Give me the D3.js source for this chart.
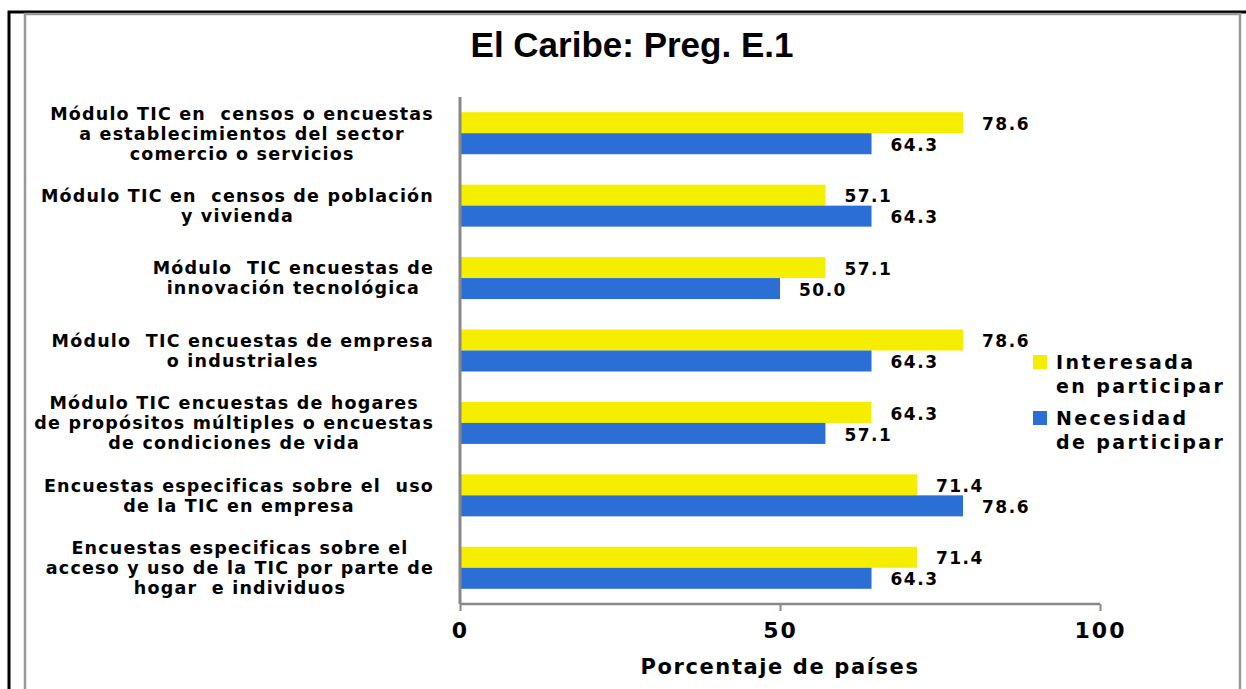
<!DOCTYPE html>
<html><head><meta charset="utf-8">
<script src="https://cdn.jsdelivr.net/npm/d3@7"></script>
<style>
html,body{margin:0;padding:0;background:#fff;}
svg{display:block;}
text{font-family:"DejaVu Sans",Verdana,sans-serif;font-weight:bold;fill:#000;white-space:pre;}
</style></head>
<body>
<svg id="chart" width="1246" height="689"></svg>
<script>
const categories = [
  ["Módulo TIC en  censos o encuestas","a establecimientos del sector","comercio o servicios"],
  ["Módulo TIC en  censos de población","y vivienda"],
  ["Módulo  TIC encuestas de","innovación tecnológica"],
  ["Módulo  TIC encuestas de empresa","o industriales"],
  ["Módulo TIC encuestas de hogares","de propósitos múltiples o encuestas","de condiciones de vida"],
  ["Encuestas especificas sobre el  uso","de la TIC en empresa"],
  ["Encuestas especificas sobre el","acceso y uso de la TIC por parte de","hogar  e individuos"]
];
const seriesNames = ["Interesada en participar","Necesidad de participar"];
const legendLines = [["Interesada","en participar"],["Necesidad","de participar"]];
const interesada = [78.6, 57.1, 57.1, 78.6, 64.3, 71.4, 71.4];
const necesidad  = [64.3, 64.3, 50.0, 64.3, 57.1, 78.6, 64.3];
const xTicks = [0, 50, 100];
const colors = ["#F5EE00", "#2B6FD6"];

const svg = d3.select("#chart");

// frames
svg.append("rect").attr("x",9).attr("y",12).attr("width",1250).attr("height",700)
  .attr("fill","none").attr("stroke","#000").attr("stroke-width",3);
svg.append("rect").attr("x",25).attr("y",14).attr("width",1215).attr("height",700)
  .attr("fill","none").attr("stroke","#999").attr("stroke-width",2.5);

// title
svg.append("text").attr("x",632).attr("y",57).attr("text-anchor","middle")
  .style("font-family","'Liberation Sans Narrow','Arial Narrow',sans-serif")
  .style("font-size","35px").text("El Caribe: Preg. E.1");

const x = d3.scaleLinear().domain([0,100]).range([460,1100]);
const y = d3.scaleBand().domain(d3.range(categories.length)).range([97,604])
  .paddingInner(0.42).paddingOuter(0.21);
const ys = d3.scaleBand().domain([0,1]).range([0,y.bandwidth()]);

const data = [interesada, necesidad];
const g = svg.append("g");
data.forEach((vals,si)=>{
  g.selectAll(".b"+si).data(vals).join("rect")
    .attr("x",x(0)).attr("y",(d,i)=>y(i)+ys(si))
    .attr("width",d=>x(d)-x(0)).attr("height",ys.bandwidth())
    .attr("fill",colors[si]);
  g.selectAll(".l"+si).data(vals).join("text")
    .attr("x",d=>x(d)+19).attr("y",(d,i)=>y(i)+ys(si)+ys.bandwidth()/2+1)
    .attr("dy","0.36em")
    .style("font-size","17px").style("letter-spacing","1.5px")
    .text(d=>d.toFixed(1));
});

// axes
const xAxis = d3.axisBottom(x).tickValues(xTicks).tickSize(7).tickFormat(d3.format("d"));
const ax = svg.append("g").attr("transform","translate(0,604)").call(xAxis);
ax.select(".domain").attr("stroke","#888").attr("stroke-width",2.5).attr("d","M460,0H1100");
ax.selectAll(".tick line").attr("stroke","#888").attr("stroke-width",2);
ax.selectAll(".tick text").attr("y",18).attr("dy","0.71em")
  .style("font-size","22px").style("letter-spacing","2px")
  .style("font-family","'DejaVu Sans',sans-serif").attr("fill","#000");

svg.append("line").attr("x1",x(0)).attr("x2",x(0)).attr("y1",97).attr("y2",604)
  .attr("stroke","#888").attr("stroke-width",3);

svg.append("text").attr("x",780).attr("y",674).attr("text-anchor","middle")
  .style("font-size","21px").style("letter-spacing","1.6px").text("Porcentaje de países");

// category labels: block right aligned, lines centered within block
const labelRight = 434;
categories.forEach((lines,i)=>{
  const n = lines.length;
  const cy = y(i)+y.bandwidth()/2;
  const lh = 20;
  const t = svg.append("g");
  const texts = lines.map((ln,j)=> t.append("text")
     .attr("y", cy + (j-(n-1)/2)*lh).attr("dy","0.36em")
     .style("font-size","17.5px").style("letter-spacing","1.2px")
     .attr("text-anchor","middle").text(ln));
  const maxW = d3.max(texts, tt=>tt.node().getComputedTextLength());
  texts.forEach(tt=>tt.attr("x", labelRight - maxW/2));
});

// legend
const leg = svg.append("g");
legendLines.forEach((lines,i)=>{
  const top = 362 + i*56;
  leg.append("rect").attr("x",1033).attr("y",top-7).attr("width",14).attr("height",14).attr("fill",colors[i]);
  lines.forEach((ln,j)=>{
    leg.append("text").attr("x",1056).attr("y",top+j*24).attr("dy","0.36em")
      .style("font-size","19px").style("letter-spacing","2.4px").text(ln);
  });
});
</script>
</body></html>
